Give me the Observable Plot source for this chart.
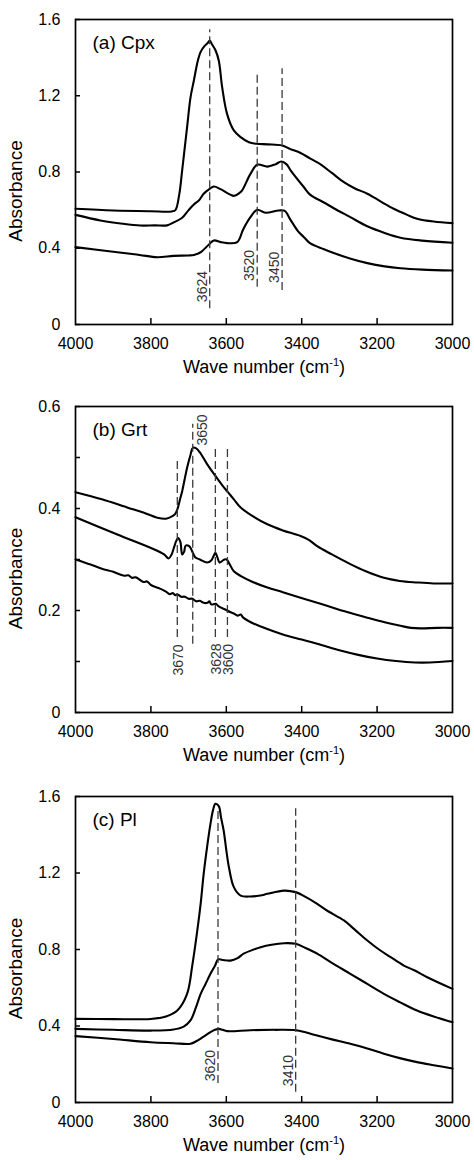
<!DOCTYPE html>
<html>
<head>
<meta charset="utf-8">
<script src="https://cdn.jsdelivr.net/npm/d3@7"></script>
<script src="https://cdn.jsdelivr.net/npm/@observablehq/plot@0.6"></script>
<style>
  body { margin: 0; background: #fff; }
  #chart svg { display: block; }
</style>
</head>
<body>
<div id="chart"></div>
<script>
// ---------- axis ticks ----------
const xTicks = [4000, 3800, 3600, 3400, 3200, 3000];
const yTicksA = [0, 0.4, 0.8, 1.2, 1.6];
const yTicksB = [0, 0.2, 0.4, 0.6];
const yMinorB = [0, 0.1, 0.2, 0.3, 0.4, 0.5, 0.6];
const yTicksC = [0, 0.4, 0.8, 1.2, 1.6];

// ---------- (a) Cpx ----------
const cpxTopW = [4000, 3900, 3800, 3745, 3735, 3725, 3717, 3704, 3695, 3686, 3676, 3668, 3658, 3650, 3644, 3638, 3629, 3620, 3611, 3598, 3580, 3562, 3540, 3520, 3490, 3452, 3430, 3403, 3377, 3350, 3320, 3288, 3260, 3226, 3190, 3156, 3120, 3094, 3050, 3000];
const cpxTopA = [0.607, 0.598, 0.594, 0.593, 0.600, 0.680, 0.810, 1.035, 1.190, 1.280, 1.380, 1.430, 1.460, 1.475, 1.490, 1.470, 1.440, 1.385, 1.245, 1.105, 1.018, 0.983, 0.956, 0.948, 0.945, 0.939, 0.920, 0.900, 0.870, 0.840, 0.795, 0.747, 0.715, 0.686, 0.645, 0.607, 0.575, 0.555, 0.540, 0.532];
const cpxMidW = [4000, 3934, 3880, 3828, 3790, 3757, 3740, 3717, 3700, 3686, 3673, 3660, 3645, 3633, 3615, 3580, 3565, 3558, 3536, 3518, 3491, 3470, 3454, 3440, 3430, 3394, 3377, 3341, 3315, 3271, 3226, 3180, 3138, 3080, 3000];
const cpxMidA = [0.575, 0.546, 0.530, 0.519, 0.520, 0.520, 0.535, 0.560, 0.600, 0.630, 0.650, 0.686, 0.710, 0.724, 0.710, 0.675, 0.690, 0.703, 0.790, 0.838, 0.828, 0.840, 0.855, 0.840, 0.810, 0.720, 0.680, 0.640, 0.610, 0.563, 0.515, 0.480, 0.455, 0.440, 0.429];
const cpxBotW = [4000, 3889, 3830, 3783, 3740, 3700, 3686, 3668, 3646, 3633, 3615, 3598, 3571, 3555, 3536, 3518, 3496, 3461, 3445, 3430, 3410, 3394, 3377, 3341, 3315, 3270, 3226, 3180, 3138, 3080, 3000];
const cpxBotA = [0.406, 0.379, 0.365, 0.353, 0.360, 0.362, 0.365, 0.379, 0.420, 0.441, 0.432, 0.427, 0.432, 0.500, 0.563, 0.602, 0.586, 0.598, 0.596, 0.550, 0.490, 0.458, 0.425, 0.395, 0.375, 0.345, 0.322, 0.305, 0.295, 0.288, 0.283];
const cpxPeakPos = [3644, 3518, 3452];
const cpxPeakText = ["3624", "3520", "3450"];
const cpxPeakLo = [0.082, 0.196, 0.178];
const cpxPeakHi = [1.546, 1.324, 1.342];
const cpxLabelAt = [0.199, 0.31, 0.30];

// ---------- (b) Grt ----------
const grtTopW = [4000, 3930, 3863, 3820, 3783, 3760, 3743, 3735, 3730, 3722, 3717, 3704, 3695, 3689, 3680, 3670, 3651, 3629, 3610, 3598, 3580, 3562, 3530, 3491, 3450, 3403, 3380, 3359, 3320, 3271, 3230, 3182, 3140, 3094, 3050, 3000];
const grtTopA = [0.432, 0.418, 0.402, 0.392, 0.382, 0.380, 0.385, 0.390, 0.398, 0.420, 0.434, 0.480, 0.505, 0.519, 0.518, 0.510, 0.487, 0.464, 0.445, 0.434, 0.418, 0.402, 0.385, 0.369, 0.357, 0.346, 0.338, 0.326, 0.310, 0.291, 0.277, 0.264, 0.258, 0.255, 0.253, 0.253];
const grtMidW = [4000, 3889, 3801, 3765, 3753, 3745, 3739, 3733, 3728, 3722, 3717, 3712, 3708, 3700, 3695, 3688, 3682, 3670, 3651, 3640, 3633, 3629, 3624, 3618, 3613, 3605, 3599, 3592, 3580, 3560, 3530, 3491, 3450, 3403, 3350, 3315, 3270, 3226, 3180, 3138, 3110, 3085, 3040, 3000];
const grtMidA = [0.383, 0.349, 0.323, 0.310, 0.302, 0.310, 0.323, 0.336, 0.342, 0.335, 0.310, 0.315, 0.327, 0.327, 0.323, 0.312, 0.304, 0.300, 0.294, 0.298, 0.308, 0.313, 0.305, 0.294, 0.296, 0.300, 0.300, 0.292, 0.277, 0.267, 0.256, 0.245, 0.236, 0.225, 0.213, 0.205, 0.195, 0.186, 0.177, 0.170, 0.166, 0.165, 0.166, 0.166];
const grtBotW = [4000, 3960, 3930, 3900, 3880, 3870, 3860, 3850, 3840, 3820, 3810, 3800, 3780, 3770, 3760, 3750, 3742, 3735, 3730, 3720, 3710, 3700, 3690, 3680, 3670, 3660, 3650, 3645, 3640, 3628, 3620, 3600, 3590, 3580, 3570, 3562, 3555, 3540, 3500, 3450, 3400, 3350, 3300, 3250, 3200, 3150, 3100, 3060, 3000];
const grtBotA = [0.300, 0.290, 0.282, 0.276, 0.270, 0.268, 0.269, 0.264, 0.265, 0.256, 0.257, 0.250, 0.244, 0.241, 0.237, 0.232, 0.234, 0.230, 0.232, 0.227, 0.227, 0.223, 0.223, 0.218, 0.219, 0.215, 0.215, 0.218, 0.212, 0.213, 0.208, 0.201, 0.197, 0.194, 0.190, 0.192, 0.186, 0.179, 0.166, 0.153, 0.143, 0.133, 0.122, 0.113, 0.106, 0.101, 0.098, 0.098, 0.101];
const grtPeakPos = [3730, 3689, 3629, 3597];
const grtPeakText = ["3670", "3650", "3628", "3600"];
const grtPeakLo = [0.147, 0.134, 0.147, 0.147];
const grtPeakHi = [0.496, 0.565, 0.516, 0.516];
const grtLabelAt = [0.103, 0.554, 0.105, 0.104];

// ---------- (c) Pl ----------
const plTopW = [4000, 3900, 3801, 3760, 3730, 3704, 3690, 3677, 3668, 3660, 3650, 3642, 3635, 3629, 3620, 3614, 3607, 3600, 3593, 3580, 3562, 3536, 3510, 3491, 3447, 3416, 3390, 3359, 3330, 3288, 3260, 3226, 3195, 3164, 3129, 3100, 3067, 3000];
const plTopA = [0.437, 0.436, 0.437, 0.450, 0.481, 0.568, 0.720, 0.899, 1.040, 1.196, 1.350, 1.457, 1.530, 1.562, 1.550, 1.490, 1.422, 1.320, 1.230, 1.126, 1.082, 1.077, 1.082, 1.091, 1.108, 1.100, 1.075, 1.039, 1.000, 0.952, 0.905, 0.847, 0.800, 0.760, 0.716, 0.690, 0.655, 0.594];
const plMidW = [4000, 3900, 3801, 3740, 3713, 3695, 3680, 3668, 3655, 3642, 3630, 3622, 3610, 3589, 3570, 3554, 3530, 3509, 3480, 3447, 3416, 3390, 3359, 3320, 3271, 3226, 3182, 3140, 3094, 3050, 3000];
const plMidA = [0.385, 0.380, 0.376, 0.382, 0.397, 0.429, 0.500, 0.568, 0.620, 0.673, 0.715, 0.748, 0.745, 0.742, 0.755, 0.778, 0.798, 0.812, 0.825, 0.833, 0.830, 0.808, 0.778, 0.730, 0.673, 0.620, 0.568, 0.525, 0.481, 0.450, 0.420];
const plBotW = [4000, 3900, 3801, 3740, 3695, 3680, 3660, 3642, 3630, 3620, 3610, 3598, 3536, 3470, 3416, 3390, 3359, 3320, 3271, 3226, 3182, 3140, 3094, 3050, 3000];
const plBotA = [0.347, 0.332, 0.315, 0.310, 0.307, 0.320, 0.345, 0.368, 0.380, 0.385, 0.380, 0.373, 0.378, 0.380, 0.378, 0.367, 0.350, 0.330, 0.307, 0.282, 0.255, 0.232, 0.211, 0.195, 0.178];
const plPeakPos = [3622, 3416];
const plPeakText = ["3620", "3410"];
const plPeakLo = [0.10, 0.054];
const plPeakHi = [1.53, 1.536];
const plLabelAt = [0.193, 0.167];

// ---------- build ----------
const WIDTH = 474, ML = 75, MR = 22;
const innerW = WIDTH - ML - MR;
const FONT = "'Liberation Sans', Arial, Helvetica, sans-serif";

function rowsOf(curves) {
  return curves.flatMap(([w, a], s) => w.map((x, i) => ({w: x, a: a[i], s})));
}
function peaksOf(pos, txt, lo, hi, at) {
  return pos.map((w, i) => ({w, text: txt[i], lo: lo[i], hi: hi[i], at: at[i]}));
}

function panel(o) {
  const innerH = o.height - o.marginTop - o.marginBottom;
  const rows = rowsOf(o.curves);
  const marks = [
    Plot.line(rows, {x: "w", y: "a", z: "s", stroke: "#000", strokeWidth: 2.1, curve: "catmull-rom"}),
    Plot.ruleX(o.peaks, {x: "w", y1: "lo", y2: "hi", stroke: "#3a3a3a", strokeWidth: 1.3, strokeDasharray: "8,4"}),
    ...o.labelMarks,
    Plot.tickX(xTicks.slice(1, -1), {x: d => d, insetTop: innerH - 6, stroke: "#000", strokeWidth: 1.5}),
    Plot.tickY(o.yMinor, {y: d => d, insetRight: innerW - 5, stroke: "#000", strokeWidth: 1.5}),
    Plot.frame({stroke: "#000", strokeWidth: 1.7}),
    Plot.axisX({ticks: xTicks, tickSize: 0, tickPadding: 13.5, fontSize: 16, label: null, tickFormat: d => String(d)}),
    Plot.axisY({ticks: o.yTicks, tickSize: 0, tickPadding: 15, fontSize: 16, label: null, tickFormat: d => d === 0 ? "0" : d3.format(".1f")(d)}),
    Plot.text(["Absorbance"], {frameAnchor: "left", text: d => d, rotate: -90, dx: -59.5, dy: 19, fontSize: 19, lineAnchor: "middle", textAnchor: "middle"}),
    Plot.text(["Wave number (cm-1)"], {frameAnchor: "bottom", text: d => d, dy: 43, fontSize: 18, lineAnchor: "middle", textAnchor: "middle"}),
    Plot.text([o.label], {frameAnchor: "top-left", text: d => d, dx: 17, dy: 23, fontSize: 19, lineAnchor: "middle", textAnchor: "start"})
  ];
  const svg = Plot.plot({
    width: WIDTH, height: o.height,
    marginLeft: ML, marginRight: MR, marginTop: o.marginTop, marginBottom: o.marginBottom,
    style: {fontFamily: FONT, color: "#000", background: "#fff", overflow: "visible"},
    x: {domain: [4000, 3000], axis: null, label: null},
    y: {domain: o.yDomain, axis: null, label: null},
    marks
  });
  d3.select(svg).selectAll("text").each(function () {
    if (this.textContent === "Wave number (cm-1)") {
      const t = d3.select(this).text(null);
      t.append("tspan").text("Wave number (cm");
      t.append("tspan").attr("dy", "-7").attr("font-size", "11").text("-1");
      t.append("tspan").attr("dy", "7").text(")");
    }
  });
  return svg;
}

const labelStyle = {fill: "#333", fontSize: 14, rotate: -90, textAnchor: "middle"};

const cpxPeaks = peaksOf(cpxPeakPos, cpxPeakText, cpxPeakLo, cpxPeakHi, cpxLabelAt);
const grtPeaks = peaksOf(grtPeakPos, grtPeakText, grtPeakLo, grtPeakHi, grtLabelAt);
const plPeaks = peaksOf(plPeakPos, plPeakText, plPeakLo, plPeakHi, plLabelAt);

const chart = document.getElementById("chart");

chart.append(panel({
  height: 386, marginTop: 19, marginBottom: 62,
  yDomain: [0, 1.6], yTicks: yTicksA, yMinor: yTicksA, label: "(a) Cpx",
  curves: [[cpxTopW, cpxTopA], [cpxMidW, cpxMidA], [cpxBotW, cpxBotA]],
  peaks: cpxPeaks,
  labelMarks: [Plot.text(cpxPeaks, {x: "w", y: "at", text: "text", lineAnchor: "bottom", dx: -3, ...labelStyle})]
}));

chart.append(panel({
  height: 386, marginTop: 20, marginBottom: 60,
  yDomain: [0, 0.6], yTicks: yTicksB, yMinor: yMinorB, label: "(b) Grt",
  curves: [[grtTopW, grtTopA], [grtMidW, grtMidA], [grtBotW, grtBotA]],
  peaks: grtPeaks,
  labelMarks: [
    Plot.text(grtPeaks.filter(d => d.text !== "3650"), {x: "w", y: "at", text: "text", lineAnchor: "middle", dx: 1, ...labelStyle}),
    Plot.text(grtPeaks.filter(d => d.text === "3650"), {x: "w", y: "at", text: "text", lineAnchor: "top", dx: 4, ...labelStyle})
  ]
}));

chart.append(panel({
  height: 388, marginTop: 24, marginBottom: 58,
  yDomain: [0, 1.6], yTicks: yTicksC, yMinor: yTicksC, label: "(c) Pl",
  curves: [[plTopW, plTopA], [plMidW, plMidA], [plBotW, plBotA]],
  peaks: plPeaks,
  labelMarks: [Plot.text(plPeaks, {x: "w", y: "at", text: "text", lineAnchor: "bottom", dx: -3, ...labelStyle})]
}));
</script>
</body>
</html>
